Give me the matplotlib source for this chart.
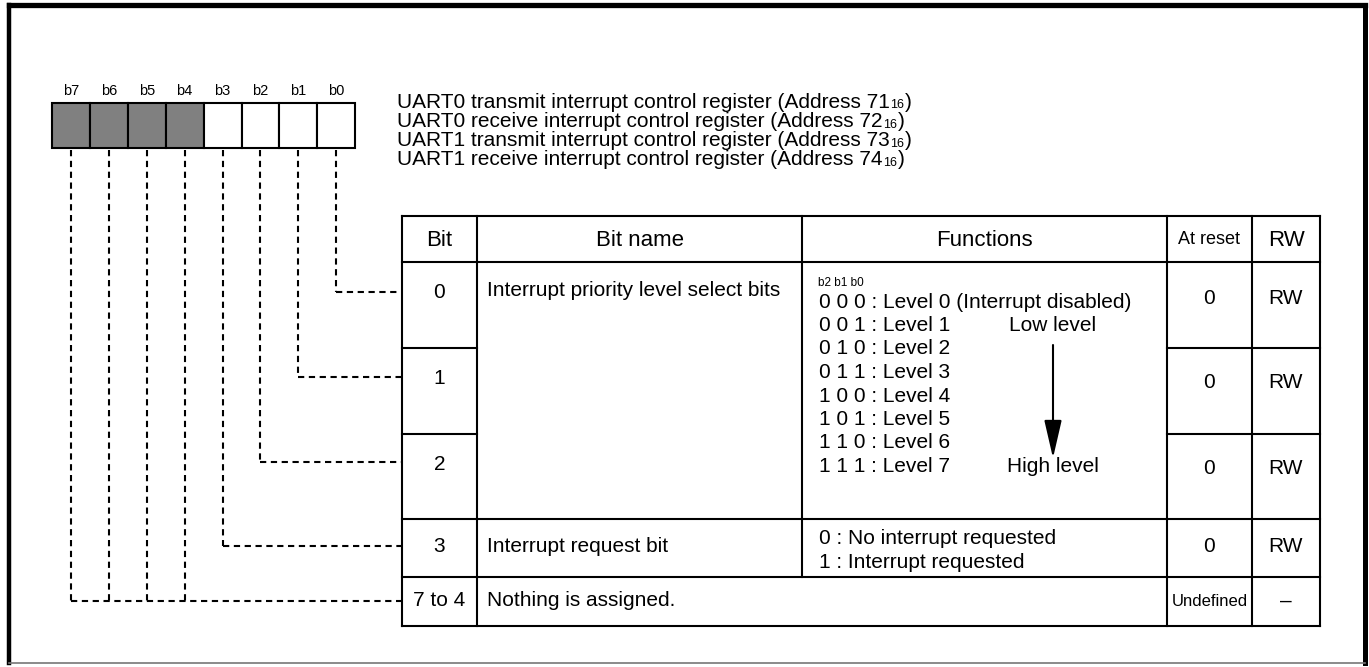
import matplotlib.pyplot as plt
from matplotlib.patches import Rectangle

plt.rcParams['font.family'] = ['Liberation Sans', 'DejaVu Sans']

# register bits (left to right) and which ones are unused
bit_labels = ['b7', 'b6', 'b5', 'b4', 'b3', 'b2', 'b1', 'b0']
bit_unused = [True, True, True, True, False, False, False, False]

registers = ['UART0 transmit interrupt control register (Address 71',
             'UART0 receive interrupt control register (Address 72',
             'UART1 transmit interrupt control register (Address 73',
             'UART1 receive interrupt control register (Address 74']

headers = ['Bit', 'Bit name', 'Functions', 'At reset', 'RW']
row_bits = ['0', '1', '2', '3', '7 to 4']
row_reset = ['0', '0', '0', '0', 'Undefined']
row_rw = ['RW', 'RW', 'RW', 'RW', '–']
level_codes = ['0 0 0', '0 0 1', '0 1 0', '0 1 1', '1 0 0', '1 0 1', '1 1 0', '1 1 1']
level_names = ['Level 0 (Interrupt disabled)', 'Level 1', 'Level 2', 'Level 3',
               'Level 4', 'Level 5', 'Level 6', 'Level 7']
req_lines = ['0 : No interrupt requested', '1 : Interrupt requested']

fig = plt.figure(figsize=(13.69, 6.67), dpi=100)
ax = fig.add_axes([0, 0, 1, 1])
ax.set_xlim(0, 1369)
ax.set_ylim(667, 0)
ax.axis('off')

# outer frame
ax.plot([9, 1365], [4.5, 4.5], color='k', lw=3.8, solid_capstyle='projecting')
ax.plot([9, 9], [4.5, 663], color='k', lw=3.2)
ax.plot([1365, 1365], [4.5, 663], color='k', lw=3.6)
ax.plot([9, 1365], [663, 663], color='#777777', lw=1.2)

# register boxes
x0, y0, cw, ch = 52, 103, 37.9, 45
for i, lab in enumerate(bit_labels):
    fc = '#808080' if bit_unused[i] else 'white'
    ax.add_patch(Rectangle((x0 + i * cw, y0), cw, ch, fc=fc, ec='k', lw=1.5))
    ax.text(x0 + (i + 0.5) * cw, 91, lab, ha='center', va='center', fontsize=10.5)

# register names with subscript 16
fig.canvas.draw()
renderer = fig.canvas.get_renderer()
inv = ax.transData.inverted()
for k, name in enumerate(registers):
    yy = 102 + k * 19.3
    t = ax.text(397, yy, name, ha='left', va='center', fontsize=15)
    bb = t.get_window_extent(renderer)
    xe = inv.transform((bb.x1, 0))[0]
    s = ax.text(xe + 0.5, yy + 3.5, '16', ha='left', va='center', fontsize=9)
    bb2 = s.get_window_extent(renderer)
    xe2 = inv.transform((bb2.x1, 0))[0]
    ax.text(xe2 + 0.5, yy, ')', ha='left', va='center', fontsize=15)

# table geometry
cols = [402, 477, 802, 1167, 1252, 1320]
rows = [216, 262, 348, 434, 519, 577, 626]
lw = 1.5
ax.plot([cols[0], cols[-1]], [rows[0], rows[0]], color='k', lw=lw)
ax.plot([cols[0], cols[-1]], [rows[1], rows[1]], color='k', lw=lw)
for r in rows[2:4]:
    ax.plot([cols[0], cols[1]], [r, r], color='k', lw=lw)
    ax.plot([cols[3], cols[5]], [r, r], color='k', lw=lw)
for r in rows[4:]:
    ax.plot([cols[0], cols[-1]], [r, r], color='k', lw=lw)
for c in [cols[0], cols[1], cols[3], cols[4], cols[5]]:
    ax.plot([c, c], [rows[0], rows[-1]], color='k', lw=lw)
ax.plot([cols[2], cols[2]], [rows[0], rows[-2]], color='k', lw=lw)

centers = [(cols[i] + cols[i + 1]) / 2 for i in range(5)]
for i, h in enumerate(headers):
    fs = 13 if h == 'At reset' else 16
    ax.text(centers[i], 240, h, ha='center', va='center', fontsize=fs)

row_y = [292, 378, 464, 546, 601]
reset_y = [298, 383, 469, 546, 601]
for i in range(5):
    ax.text(centers[0], row_y[i], row_bits[i], ha='center', va='center', fontsize=15)
    if row_reset[i] == 'Undefined':
        ax.text(centers[3], reset_y[i], row_reset[i], ha='center', va='center',
                fontsize=12, family=['Liberation Sans Narrow', 'Liberation Sans'])
    else:
        ax.text(centers[3], reset_y[i], row_reset[i], ha='center', va='center', fontsize=15)
    ax.text(centers[4], reset_y[i], row_rw[i], ha='center', va='center', fontsize=15)

ax.text(487, 290, 'Interrupt priority level select bits', ha='left', va='center', fontsize=15)
ax.text(487, 546, 'Interrupt request bit', ha='left', va='center', fontsize=15)
ax.text(487, 601, 'Nothing is assigned.', ha='left', va='center', fontsize=15)

# functions: priority levels
ax.text(818, 283, 'b2 b1 b0', ha='left', va='center', fontsize=8.5)
for j, (code, nm) in enumerate(zip(level_codes, level_names)):
    ax.text(819, 302 + j * 23.5, code + ' : ' + nm, ha='left', va='center', fontsize=15)
ax.text(1053, 325.5, 'Low level', ha='center', va='center', fontsize=15)
ax.text(1053, 466.5, 'High level', ha='center', va='center', fontsize=15)
ax.annotate('', xy=(1053, 458), xytext=(1053, 345),
            arrowprops=dict(arrowstyle='-|>,head_length=1.3,head_width=0.3',
                            color='k', lw=1.5, mutation_scale=18, shrinkA=0, shrinkB=0))
for j, line in enumerate(req_lines):
    ax.text(819, 538 + j * 24, line, ha='left', va='center', fontsize=15)

# dashed leader lines from bits to table rows
bit_rows = [601, 601, 601, 601, 546, 462, 377, 292]
dash = (0, (3, 2.2))
for i in range(8):
    xc = x0 + (i + 0.5) * cw
    ax.plot([xc, xc], [y0 + ch + 2, bit_rows[i]], color='k', lw=1.5, linestyle=dash)
    # the four unused bits share one horizontal leader, drawn from b7
    if i == 0 or not bit_unused[i]:
        ax.plot([xc, cols[0]], [bit_rows[i], bit_rows[i]], color='k', lw=1.5,
                linestyle=dash)

fig.savefig('out.png', dpi=100)
